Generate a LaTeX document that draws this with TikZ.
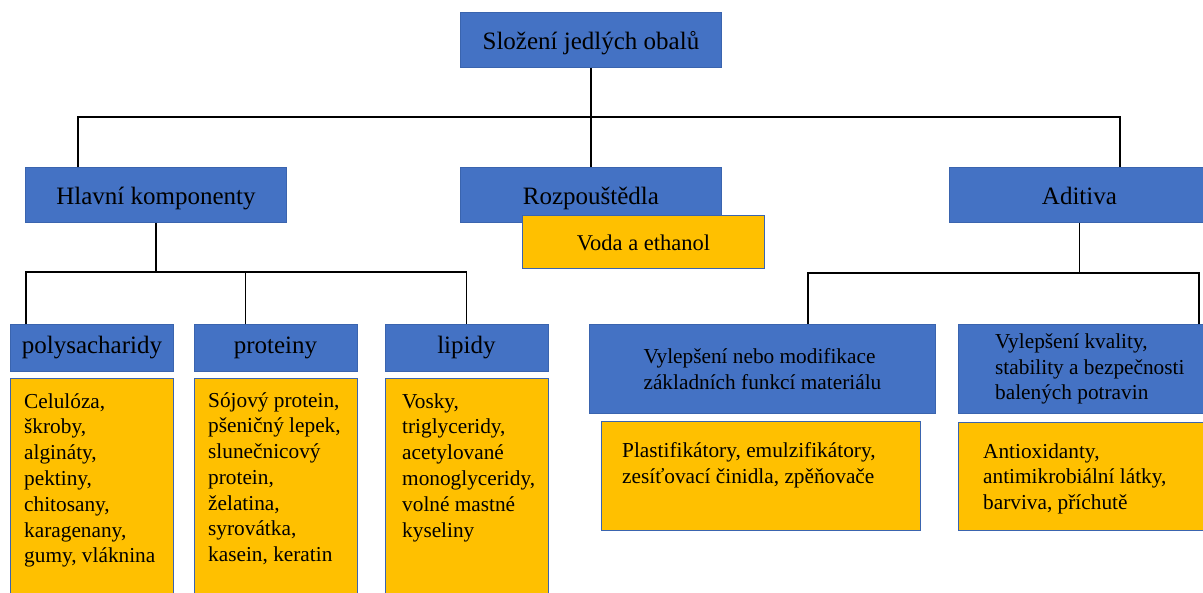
\documentclass[tikz,border=0pt]{standalone}
\usepackage{fontspec}
\setmainfont{Liberation Serif}
\definecolor{bl}{HTML}{4472C4}
\definecolor{yl}{HTML}{FFC000}
\definecolor{bd}{HTML}{3A64AE}
\begin{document}
\begin{tikzpicture}[x=1pt,y=-1pt,
  bbox/.style={draw=bd, line width=0.9pt, fill=bl, anchor=north west, inner sep=0pt,
    font=\fontsize{25}{30}\selectfont},
  hdA/.style={text height=19pt, text depth=0pt},
  hdB/.style={text height=16pt, text depth=4pt},
  ybox/.style={draw=bd, line width=0.9pt, fill=yl, anchor=north west, inner sep=0pt},
  txt/.style={anchor=base west, align=left, inner sep=0pt, font=\fontsize{21.3}{25.8}\selectfont},
  conn/.style={line width=1.1pt, black}]
\useasboundingbox (0,0) rectangle (1203,593);
\clip (0,0) rectangle (1203,593);
% level 0
\node[bbox, hdA, minimum width=261pt, minimum height=54.5pt] (root) at (460,12.5) {Složení jedlých obalů};
% level 1
\node[bbox, hdA, minimum width=261pt, minimum height=55pt] (hk) at (25,167) {Hlavní komponenty};
\node[bbox, hdA, minimum width=261pt, minimum height=55pt] (rs) at (460,167) {Rozpouštědla};
\node[bbox, hdA, minimum width=260pt, minimum height=55pt] (ad) at (949,167) {Aditiva};
\node[ybox, text height=17pt, text depth=0pt, minimum width=242pt, minimum height=53pt, font=\fontsize{22.5}{27}\selectfont] (vo) at (522,215) {Voda a ethanol};
% level 2 left
\node[bbox, hdB, minimum width=163pt, minimum height=47pt] (ps) at (10,324) {polysacharidy};
\node[bbox, hdB, minimum width=163pt, minimum height=47pt] (pr) at (193.5,324) {proteiny};
\node[bbox, hdB, minimum width=163pt, minimum height=47pt] (lp) at (384.5,324) {lipidy};
\node[ybox, minimum width=163pt, minimum height=240pt] (psb) at (10,378) {};
\node[ybox, minimum width=163pt, minimum height=240pt] (prb) at (193.5,378) {};
\node[ybox, minimum width=163pt, minimum height=240pt] (lpb) at (384.5,378) {};
\node[txt] (pst) at (24,562.8) {Celulóza,\\škroby,\\algináty,\\pektiny,\\chitosany,\\karagenany,\\gumy, vláknina};
\node[txt] (prt) at (208,561.8) {Sójový protein,\\pšeničný lepek,\\slunečnicový\\protein,\\želatina,\\syrovátka,\\kasein, keratin};
\node[txt] (lpt) at (402,537) {Vosky,\\triglyceridy,\\acetylované\\monoglyceridy,\\volné mastné\\kyseliny};
% level 2 right
\node[bbox, minimum width=346pt, minimum height=89pt, align=left, font=\fontsize{21.3}{25.5}\selectfont] (va) at (589,324) {Vylepšení nebo modifikace\\základních funkcí materiálu};
\node[bbox, minimum width=255pt, minimum height=89pt] (vb) at (958,324) {};
\node[txt, font=\fontsize{21.3}{25.5}\selectfont] (vbt) at (995,400) {Vylepšení kvality,\\stability a bezpečnosti\\balených potravin};
\node[ybox, minimum width=319pt, minimum height=109pt] (pl) at (601,421) {};
\node[txt] (plt) at (622,483.8) {Plastifikátory, emulzifikátory,\\zesíťovací činidla, zpěňovače};
\node[ybox, minimum width=255pt, minimum height=108pt] (ao) at (958,422) {};
\node[txt] (aot) at (983,509.6) {Antioxidanty,\\antimikrobiální látky,\\barviva, příchutě};
% connectors
\coordinate (bus1) at (0,117);
\coordinate (bus2) at (0,272);
\coordinate (bus3) at (0,273);
\coordinate (hkin) at ([xshift=53pt]hk.north west);
\coordinate (adin) at ([xshift=171pt]ad.north west);
\coordinate (psin) at ([xshift=16pt]ps.north west);
\coordinate (prin) at ([xshift=52pt]pr.north west);
\coordinate (vain) at ([xshift=219pt]va.north west);
\coordinate (vbin) at ([xshift=241pt]vb.north west);
\draw[conn] (root.south) -- (rs.north);
\draw[conn] (hkin) -- (hkin |- bus1) -| (adin);
\draw[conn] (hk.south) -- (hk.south |- bus2);
\draw[conn] (psin) -- (psin |- bus2) -| (lp.north);
\draw[conn] (prin) -- (prin |- bus2);
\draw[conn] (ad.south) -- (ad.south |- bus3);
\draw[conn] (vain) -- (vain |- bus3) -| (vbin);
\end{tikzpicture}
\end{document}
